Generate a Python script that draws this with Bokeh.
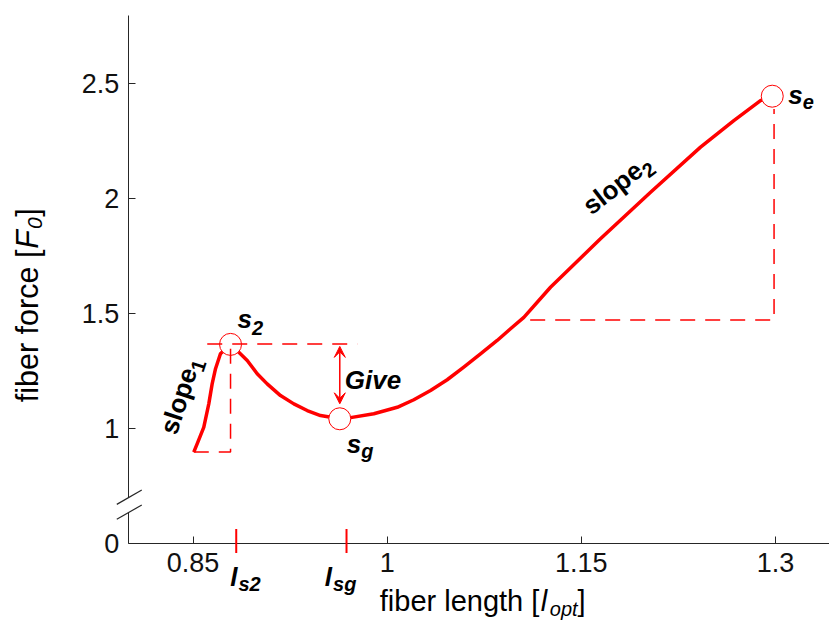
import math
from bokeh.plotting import figure
from bokeh.models import Label, Arrow, VeeHead, BoxAnnotation, FixedTicker, Range1d
from bokeh.embed import file_html
from bokeh.resources import INLINE

# ---------------- data ----------------
fiber_length = [0.8506, 0.8532, 0.8583, 0.8622, 0.8648, 0.8674, 0.8712, 0.8790,
                0.8854, 0.8919, 0.8996, 0.9073, 0.9176, 0.9279, 0.9382, 0.9485,
                0.9634, 0.9717, 0.9897, 1.0078, 1.0206, 1.0335, 1.0464, 1.0592,
                1.0721, 1.0850, 1.0953, 1.1056, 1.1262, 1.1648, 1.2035, 1.2421,
                1.2678, 1.2884, 1.2975]
fiber_force = [0.896, 0.932, 1.004, 1.106, 1.193, 1.259, 1.324, 1.365,
               1.331, 1.295, 1.237, 1.193, 1.142, 1.106, 1.077, 1.055,
               1.041, 1.046, 1.063, 1.091, 1.124, 1.164, 1.211, 1.266,
               1.324, 1.382, 1.433, 1.483, 1.614, 1.825, 2.028, 2.224,
               2.340, 2.427, 2.446]

point_names = ["s2", "sg", "se"]
point_x = [0.8790, 0.9634, 1.2975]
point_y = [1.365, 1.041, 2.446]

slope1_x = [0.8506, 0.8790, 0.8790]
slope1_y = [0.896, 0.896, 1.365]
slope2_x = [1.1105, 1.2989, 1.2989]
slope2_y = [1.471, 1.471, 2.390]
give_x = [0.861, 0.977]
give_y = [1.367, 1.367]

length_marks = [0.8834, 0.9686]
length_mark_subs = ["s2", "sg"]

x_ticks = [0.85, 1, 1.15, 1.3]
x_tick_labels = ["0.85", "1", "1.15", "1.3"]
y_ticks = [0.5, 1, 1.5, 2, 2.5]
y_tick_labels = ["0", "1", "1.5", "2", "2.5"]
axis_origin = [0.80, 0.50]      # where the two axes cross
axis_top = 2.797
axis_break = [0.632, 0.697]

# ---------------- layout ----------------
W, H = 829, 620
PX, PY = 1294.4, 229.6            # pixels per data unit
XS = 0.85 - 192.5 / PX
XE = XS + W / PX
YE = 1.0 + 427.7 / PY
YS = YE - H / PY

RED = "#ff0000"
INK = "#262626"
FONT = "Liberation Sans"

p = figure(width=W, height=H, output_backend="svg", toolbar_location=None,
           x_range=Range1d(XS, XE), y_range=Range1d(YS, YE), min_border=0)
p.outline_line_color = None
p.xgrid.grid_line_color = None
p.ygrid.grid_line_color = None
p.background_fill_color = "white"
p.border_fill_color = "white"

p.xaxis.fixed_location = axis_origin[1]
p.yaxis.fixed_location = axis_origin[0]
p.xaxis.bounds = (axis_origin[0], XE)
p.yaxis.bounds = (axis_origin[1], axis_top)

for ax, ticks, labels in ((p.xaxis, x_ticks, x_tick_labels), (p.yaxis, y_ticks, y_tick_labels)):
    ax.ticker = FixedTicker(ticks=ticks)
    ax.major_label_overrides = dict(zip(ticks, labels))
    ax.major_tick_in = 7
    ax.major_tick_out = 0
    ax.minor_tick_line_color = None
    ax.axis_line_color = INK
    ax.major_tick_line_color = INK
    ax.major_label_text_font = FONT
    ax.major_label_text_font_size = "27px"
    ax.major_label_text_color = "#111111"
p.xaxis.major_label_standoff = 10
p.yaxis.major_label_standoff = 9

# ---------------- marks ----------------
p.line(fiber_length, fiber_force, line_color=RED, line_width=3.5, line_join="round")
p.line(slope2_x, slope2_y, line_color=RED, line_width=1.5, line_dash="15 10")
p.scatter(point_x, point_y, marker="circle", size=22, line_color=RED,
          line_width=1, fill_color="white")
p.line(slope1_x, slope1_y, line_color=RED, line_width=1.5, line_dash="15 10")
p.line(give_x, give_y, line_color=RED, line_width=1.5, line_dash="15 10")

# Give arrow between s2 level and sg
p.add_layout(Arrow(x_start=point_x[1], y_start=point_y[0] - 2 / PY,
                   x_end=point_x[1], y_end=point_y[1] + 15 / PY,
                   line_color=RED, line_width=1.5,
                   start=VeeHead(size=11, fill_color=RED, line_color=RED, line_width=1),
                   end=VeeHead(size=11, fill_color=RED, line_color=RED, line_width=1)))

# red length marks across the x axis
for m in length_marks:
    p.add_layout(Arrow(x_start=m, y_start=axis_origin[1] + 14 / PY, x_end=m,
                       y_end=axis_origin[1] - 10 / PY,
                       start=None, end=None, line_color=RED, line_width=2))

# axis break on the y axis
p.add_layout(BoxAnnotation(left=axis_origin[0] - 3 / PX, right=axis_origin[0] + 3 / PX,
                           bottom=axis_break[0], top=axis_break[1],
                           fill_color="white", fill_alpha=1.0, line_color=None))
for by in axis_break:
    p.add_layout(Arrow(x_start=axis_origin[0] - 11.5 / PX, y_start=by - 6.6 / PY,
                       x_end=axis_origin[0] + 13.5 / PX, y_end=by + 7.7 / PY,
                       start=None, end=None, line_color=INK, line_width=1.2))

# ---------------- texts ----------------
REG = {"f": 278, "i": 222, "b": 556, "e": 556, "r": 333, " ": 278, "l": 222,
       "n": 556, "g": 556, "t": 278, "h": 556, "[": 278, "]": 278, "o": 556,
       "c": 500, "p": 556, "s": 500, "F": 611, "0": 556, "1": 556, "2": 556}
BOLD = {"s": 556, "l": 278, "o": 611, "p": 611, "e": 556, "G": 778, "i": 278,
        "v": 556, "g": 611, "1": 556, "2": 556}
MID = 0.3465   # em distance from the alphabetic baseline up to the em-box middle


def width(text, size, style):
    table = BOLD if "bold" in style else REG
    return sum(table.get(ch, 556) for ch in text) * size / 1000.0


def chain(ax, ay, dx, dy, pieces, angle=0.0):
    """Place text pieces one after another along a baseline.
    dx, dy: pixel offset of the first piece's baseline start (right / down positive);
    pieces: (text, size, style, shift_down_px, gap_px)."""
    ux, uy = math.cos(angle), -math.sin(angle)
    vx, vy = math.sin(angle), math.cos(angle)
    adv = 0.0
    for text, size, style, shift, gap in pieces:
        adv += gap
        down = shift - MID * size
        ox = dx + adv * ux + down * vx
        oy = dy + adv * uy + down * vy
        p.add_layout(Label(x=ax, y=ay, x_offset=ox, y_offset=-oy, text=text,
                           text_font=FONT, text_font_size=f"{size}px",
                           text_font_style=style, text_color="black",
                           text_align="left", text_baseline="middle",
                           angle=angle))
        adv += width(text, size, style)


BI = "bold italic"
# point labels
chain(point_x[0], point_y[0], 7, -16, [("s", 26, BI, 0, 0), ("2", 20, BI, 7, 0)])
chain(point_x[1], point_y[1], 7, 34, [("s", 26, BI, 0, 0), ("g", 20, BI, 5, 0)])
chain(point_x[2], point_y[2], 16, 7.5, [("s", 26, BI, 0, 0), ("e", 20, BI, 5, 0)])
chain(point_x[1], point_y[1], 5, -30, [("Give", 26, BI, 0, 0)])

# slope labels
chain(point_x[0], point_y[0], -54, 91.5,
      [("slope", 26, "bold", 0, 0), ("1", 20, "bold", 6, 0)], angle=math.radians(72))
chain(fiber_length[29], fiber_force[29], -9, -23,
      [("slope", 26, "bold", 0, 0), ("2", 20, "bold", 6, 0)], angle=math.radians(38))

# length mark labels
chain(length_marks[0], axis_origin[1], -6, 43,
      [("l", 26, BI, 0, 0), (length_mark_subs[0], 20, BI, 5, 1)])
chain(length_marks[1], axis_origin[1], -21.7, 43,
      [("l", 26, BI, 0, 0), (length_mark_subs[1], 20, BI, 5, 1)])

# axis titles
chain(1.0, axis_origin[1], -7.4, 68,
      [("fiber length [", 29, "normal", 0, 0), ("l", 29, "italic", 0, 1.5),
       ("opt", 20, "italic", 5, 2.5), ("]", 29, "normal", 0, 0)])
chain(axis_origin[0], 1.0, -91, -26,
      [("fiber force [", 30.5, "normal", 0, 0), ("F", 30.5, "italic", 0, 1),
       ("0", 21, "italic", 5, 1), ("]", 30.5, "normal", 0, 0.5)],
      angle=math.pi / 2)

open("out.html", "w").write(file_html(p, INLINE))
